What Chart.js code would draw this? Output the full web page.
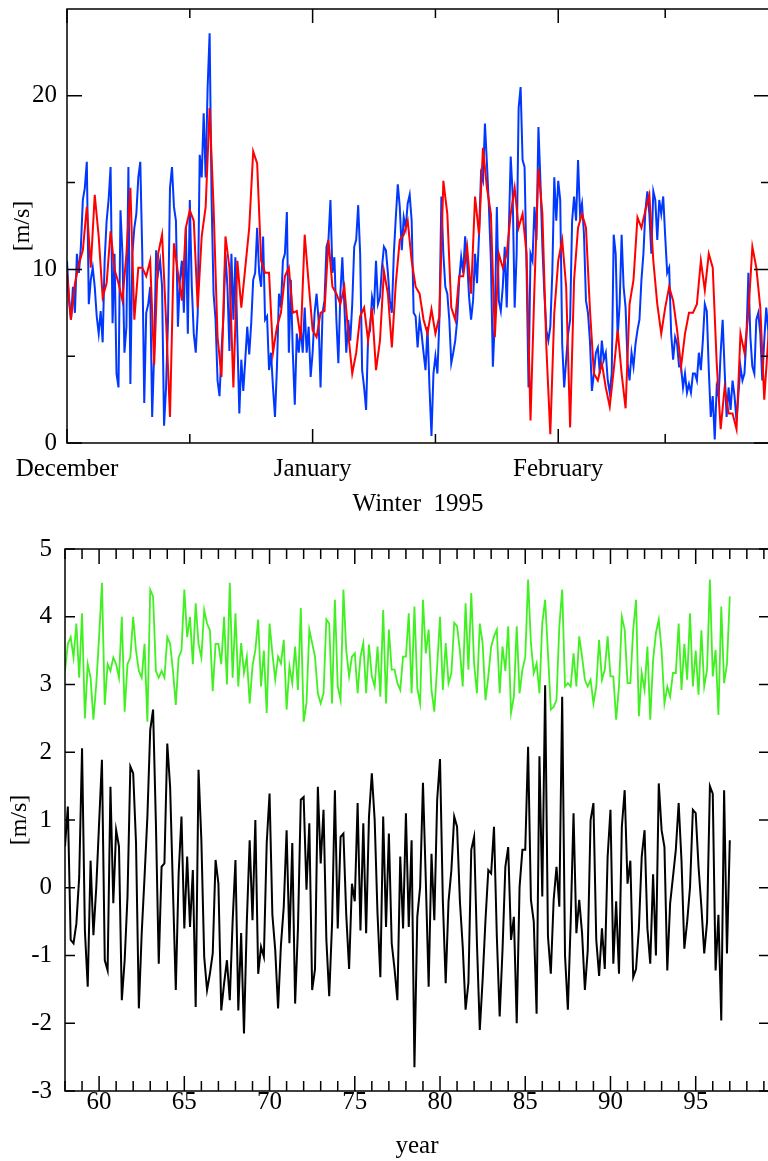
<!DOCTYPE html>
<html>
<head>
<meta charset="utf-8">
<script src="https://cdn.jsdelivr.net/npm/chart.js@4.4.1/dist/chart.umd.min.js"></script>
<style>
  html, body { margin: 0; padding: 0; background: #fff; overflow: hidden; width: 768px; height: 1161px; }
  canvas { position: absolute; left: 0; }
  #winter { top: 0; }
  #annual { top: 520px; }
</style>
</head>
<body>
<canvas id="winter" width="790" height="520"></canvas>
<canvas id="annual" width="790" height="641"></canvas>
<script>
// top panel: winter 1995, days since 1 December
const monthStarts = [0, 31, 62];
const monthNames = ['December', 'January', 'February'];
const midMonths = [15.5, 46.5, 75.5];
const speedTicks = [0, 10, 20];
const blueStep = 0.25;
const redStep = 0.5;

const blueSpeed = [
  10.5, 8.2, 7.1, 9.0, 7.5, 10.9, 9.8, 11.3, 14.0, 14.7,
  16.2, 8.0, 9.4, 10.1, 9.0, 7.3, 6.3, 7.6, 5.8, 10.5,
  12.8, 14.0, 15.9, 6.9, 10.9, 4.0, 3.2, 13.4, 10.9, 5.2,
  6.7, 15.9, 3.4, 10.9, 12.4, 13.2, 15.3, 16.2, 10.9, 2.3,
  7.5, 8.0, 9.0, 1.5, 5.2, 11.1, 9.8, 10.5, 9.0, 1.0,
  3.2, 7.1, 14.7, 15.9, 13.6, 12.8, 6.7, 9.4, 10.5, 7.5,
  12.4, 6.3, 14.0, 9.0, 6.3, 5.2, 7.5, 16.6, 15.3, 19.0,
  15.3, 20.5, 23.6, 14.0, 8.6, 7.1, 3.6, 2.7, 5.3, 7.3,
  10.9, 9.0, 5.3, 10.9, 7.1, 10.7, 6.1, 1.7, 4.8, 3.0,
  4.8, 6.7,
  5.1, 6.9, 9.4, 9.8, 12.4, 9.8, 9.0, 11.9, 7.1, 7.3,
  4.2, 5.2, 3.2, 1.5, 4.4, 8.6, 7.8, 10.5, 10.9, 13.3,
  5.2, 9.4, 5.2, 2.2, 6.3, 5.2, 6.7, 5.2, 7.8, 5.2,
  6.7, 3.8, 5.2, 7.5, 8.6, 7.1, 3.2, 7.5, 8.2, 11.3,
  11.7, 14.0, 9.8, 10.7, 7.1, 4.6, 8.6, 10.7, 8.0, 5.2,
  7.1, 5.9, 8.0, 11.3, 11.7, 13.7, 10.9, 4.2, 3.2, 1.9,
  6.1, 6.5, 8.4, 7.8, 10.5, 8.0, 8.4, 10.1, 11.3, 11.1,
  9.8, 8.2, 7.5, 10.9, 13.0, 14.9, 13.6, 11.1, 13.0, 12.4,
  13.8, 14.3, 12.8, 7.5, 7.3, 5.5, 7.1, 6.3, 5.2, 4.2,
  6.7,
  3.2, 0.4, 4.0, 5.0, 4.0, 7.1, 14.2, 10.9, 9.0, 8.6,
  7.1, 4.6, 5.2, 5.9, 7.1, 9.4, 10.7, 9.8, 11.9, 10.5,
  8.4, 7.1, 8.2, 10.9, 9.2, 12.0, 15.5, 15.1, 18.4, 16.1,
  13.6, 10.5, 4.4, 7.1, 13.6, 8.2, 7.6, 9.0, 11.3, 7.8,
  12.0, 16.5, 14.3, 7.8, 10.9, 19.3, 20.5, 16.3, 15.9, 10.1,
  3.2, 10.9, 10.5, 13.6, 11.7, 18.2, 15.1, 11.3, 8.6, 6.5,
  5.9, 6.7, 9.8, 15.3, 12.8, 15.1, 14.0, 5.7, 3.2, 4.8,
  6.3, 7.1, 12.8, 14.2, 12.8, 16.3, 13.2, 13.8, 12.0, 8.2,
  7.5, 5.9, 3.0, 4.0, 5.2, 5.5, 4.0, 5.9, 4.8, 5.2,
  3.6, 2.9, 4.0, 12.0, 10.9, 6.1, 8.0, 12.0, 9.0, 7.8,
  4.6, 3.6, 5.2, 4.4, 5.7, 6.5, 7.1, 9.4, 10.9, 13.4,
  14.5, 13.2, 10.9, 14.5, 14.0, 11.7, 14.0, 13.2, 14.2, 11.9,
  9.8, 10.1, 6.3, 4.8, 6.1, 5.7, 4.4, 4.4, 3.2, 4.0,
  2.9, 3.4, 2.9, 4.0, 4.0, 3.6, 5.2, 4.2, 5.9, 8.0,
  7.6, 4.2, 1.5, 2.7, 0.2, 3.2, 2.7, 5.2, 7.1, 4.2,
  1.5, 3.2, 1.9, 3.6, 2.7, 1.3, 2.9, 4.4, 3.6, 4.0,
  6.1, 9.8, 6.1, 4.4, 4.0, 7.1, 7.5, 6.3, 3.6, 5.9,
  7.8, 6.5, 5.0, 4.5
];

const redSpeed = [
  9.8, 7.1, 9.2, 10.3, 11.1, 13.6, 10.1, 14.3, 11.9, 8.4,
  9.2, 12.2, 10.0, 9.2, 8.2, 10.9, 14.7, 7.1, 10.1, 10.1,
  9.6, 10.5, 4.5, 10.9, 12.0, 7.1, 1.5, 11.5, 9.8, 8.2,
  12.4, 13.4, 12.8, 7.8, 11.9, 13.6, 19.3, 13.6, 6.1, 3.8,
  11.9, 10.1, 3.2, 10.5, 7.8, 10.1,
  12.4, 16.8, 16.1, 10.5, 9.8, 9.8, 5.2, 6.7, 7.5, 9.6,
  10.1, 7.5, 7.6, 6.0, 12.0, 9.2, 6.5, 6.1, 7.5, 7.6,
  11.7, 9.0, 8.6, 8.0, 9.0, 6.3, 4.0, 5.2, 7.3, 7.8,
  5.9, 7.8, 4.2, 5.9, 9.9, 8.6, 5.5, 9.2, 11.7, 12.0,
  12.8, 10.5, 9.0, 8.6, 7.1, 6.3,
  7.7, 6.3, 7.3, 15.1, 13.2, 7.8, 7.1, 9.6, 9.6, 11.3,
  8.6, 14.2, 12.0, 17.0, 14.7, 13.2, 6.1, 10.9, 10.1, 10.9,
  13.2, 14.7, 12.4, 13.2, 10.9, 1.3, 9.0, 15.8, 13.2, 5.5,
  0.5, 7.5, 10.5, 11.7, 9.0, 0.9, 9.4, 12.4, 13.2, 12.4,
  7.7, 4.0, 3.6, 4.6, 3.2, 2.1,
  4.2, 6.5, 4.0, 2.0, 8.0, 9.4, 13.0, 12.4, 13.4, 14.3,
  10.5, 8.0, 6.3, 7.8, 9.0, 8.2, 6.5, 4.4, 6.3, 7.5,
  7.5, 8.0, 10.5, 8.8, 10.9, 10.1, 4.6, 0.8, 3.2, 1.7,
  1.7, 0.8, 6.3, 5.2, 7.5, 11.3, 10.1, 7.8, 2.5, 6.0,
  5.0, 4.0
];

// bottom panel: 1958-1997
const yearStart = 58;
const yearStep = 1 / 6;
const yearTicks = [60, 65, 70, 75, 80, 85, 90, 95];
const anomalyTicks = [-3, -2, -1, 0, 1, 2, 3, 4, 5];

const greenSeries = [
  3.2, 3.6, 3.7, 3.4, 3.9, 3.1, 4.05, 2.5, 3.3, 3.1,
  2.48, 3.0, 3.7, 4.5, 2.7, 3.3, 3.2, 3.4, 3.3, 3.1,
  4.0, 2.6, 3.3, 3.4, 4.0, 3.5, 3.2, 3.1, 3.6, 2.45,
  4.4, 4.3, 3.2, 3.1, 3.2, 3.1, 3.7, 3.6, 3.2, 2.7,
  3.4, 3.5, 4.4, 3.7, 4.0, 3.3, 4.2, 3.6, 3.4, 4.1,
  3.9, 3.8, 2.9, 3.6, 3.6, 3.3, 4.0, 3.0, 4.5, 3.1,
  4.05, 2.97,
  3.61, 3.17, 3.41, 2.72, 3.27, 3.51, 3.96, 2.97, 3.5, 2.58,
  3.9, 3.46, 3.07, 3.41, 3.31, 3.66, 2.63, 3.27, 3.02, 3.56,
  2.92, 4.13, 2.45, 2.72, 3.81, 3.61, 3.41, 2.87, 2.72, 2.87,
  3.96, 3.9, 2.72, 4.25, 2.97, 2.77, 4.4, 3.5, 3.12, 3.41,
  3.46, 2.87, 3.41, 3.61, 2.87, 3.59, 3.12, 2.97, 3.56, 2.82,
  4.1, 2.72, 3.81, 3.22, 3.22, 3.02, 2.92, 3.41, 3.41, 4.05,
  2.87, 4.15,
  2.95, 2.72, 4.25, 3.46, 3.81, 2.92, 2.6, 3.27, 4.0, 2.92,
  3.61, 3.02, 3.17, 3.91, 3.86, 3.5, 2.97, 4.2, 3.22, 4.35,
  3.31, 2.87, 3.9, 3.61, 2.77, 3.12, 3.56, 3.71, 3.81, 2.87,
  3.56, 3.2, 3.86, 2.58, 2.82, 3.86, 2.87, 3.22, 3.4, 4.55,
  3.61, 3.17, 3.31, 2.87, 3.91, 4.25, 3.46, 2.63, 2.67, 2.77,
  3.86, 4.4, 2.97, 3.02, 2.97, 3.46, 2.97, 3.71, 3.41, 3.07,
  2.97,
  3.07, 2.72, 2.97, 3.66, 3.07, 3.22, 3.71, 3.12, 3.12, 2.48,
  2.97, 4.0, 3.81, 3.02, 3.02, 3.81, 4.25, 2.53, 3.17, 2.92,
  3.56, 2.48, 3.36, 3.76, 3.96, 3.5, 2.72, 2.97, 2.82, 3.17,
  3.17, 3.9, 2.92, 3.6, 3.07, 4.05, 2.97, 3.5, 2.85, 3.8,
  2.97, 3.22, 4.55, 3.12, 3.51, 2.55, 4.15, 3.02, 3.3, 4.3
];

const blackSeries = [
  0.61, 1.2, -0.77, -0.82, -0.53, 0.16, 2.06, -0.63, -1.46, 0.4,
  -0.7, 0.0, 0.95, 1.89, -1.07, -1.22, 1.49, -0.23, 0.85, 0.61,
  -1.66, -1.07, -0.13, 1.79, 1.69, 0.66, -1.78, -0.67, 0.16, 1.05,
  2.33, 2.63, 0.95, -1.12, 0.31, 0.36, 2.13, 1.49, -0.03, -1.51,
  0.21, 1.05, -0.6, 0.46, -0.58, 0.26, -1.76, 1.74, 0.7, -1.02,
  -1.51, -1.27, -0.97, 0.41, 0.06, -1.81, -1.41, -1.07, -1.66, -0.5,
  0.41, -1.81,
  -0.67, -2.15, -0.5, 0.7, -0.48, 1.0, -1.27, -0.87, -1.02, 0.66,
  1.39, -0.4, -0.92, -1.78, -0.85, -0.28, 0.85, -0.82, 0.66, -1.71,
  -0.6, 1.3, 1.34, -0.03, 0.95, -1.51, -1.2, 1.49, 0.36, 1.15,
  -0.77, -1.6, -0.53, 1.44, -0.6, 0.75, 0.8, -0.4, -1.2, 0.06,
  -0.2, 1.25, -0.63, 0.95, -0.67, 1.05, 1.69, 1.0, -0.38, -1.32,
  1.05, -0.58, 0.8, -0.82, -1.2, -1.66, 0.46, -0.6, 1.1, -0.58,
  0.7, -2.65,
  -0.43, 0.01, 1.55, 0.11, -1.46, 0.5, -0.48, 1.3, 1.9, -0.2,
  -1.41, -0.2, 0.26, 1.05, 0.9, -0.2, -0.87, -1.8, -1.4, 0.56,
  0.75, -0.82, -2.1, -1.36, -0.48, 0.26, 0.21, 0.9, -0.72, -1.9,
  -0.92, 0.31, 0.6, -0.77, -0.43, -2.0, 0.01, 0.56, 0.56, 2.08,
  -0.18, -0.5, -1.86, 1.94, -0.13, 2.99, -0.72, -1.27, -0.18, 0.31,
  -0.28, 2.82, -1.0, -1.8, -0.5, 1.1, -0.67, -0.18, -0.67, -1.51,
  -0.92,
  1.0, 1.25, -0.77, -1.3, -0.6, -1.2, 0.46, 1.15, -1.12, -0.2,
  -1.27, 0.9, 1.44, 0.06, 0.4, -1.32, -1.2, -0.6, 0.46, 0.85,
  -0.6, -1.12, 0.2, -1.0, 1.54, 0.85, 0.6, -1.22, -0.23, 0.16,
  0.56, 1.25, 0.4, -0.9, -0.5, 0.01, 1.15, 1.1, 0.31, -0.28,
  -0.97, -0.5, 1.5, 1.39, -1.22, -0.4, -1.96, 1.44, -0.97, 0.7
];

const toPoints = (values, x0, step) => values.map((v, i) => ({ x: x0 + i * step, y: v }));

const serif = { family: "'Liberation Serif', 'Times New Roman', serif", size: 25, lineHeight: 1 };

// box frame with inward tick marks on all four sides
const frameTicks = {
  id: 'frameTicks',
  afterDatasetsDraw(chart, args, opts) {
    const { ctx, chartArea: a } = chart;
    const x = chart.scales.x, y = chart.scales.y;
    ctx.save();
    ctx.strokeStyle = '#000';
    ctx.lineWidth = 1.5;
    ctx.beginPath();
    opts.xTicks.forEach(([v, len]) => {
      const px = x.getPixelForValue(v);
      ctx.moveTo(px, a.bottom); ctx.lineTo(px, a.bottom - len);
      ctx.moveTo(px, a.top); ctx.lineTo(px, a.top + len);
    });
    opts.yTicks.forEach(([v, len]) => {
      const py = y.getPixelForValue(v);
      ctx.moveTo(a.left, py); ctx.lineTo(a.left + len, py);
      ctx.moveTo(a.right, py); ctx.lineTo(a.right - len, py);
    });
    ctx.stroke();
    ctx.strokeRect(a.left, a.top, a.right - a.left, a.bottom - a.top);
    ctx.restore();
  }
};

// pin the axis boxes so the plot area lands where the original has it
const fixX = h => s => { s.height = h; s.paddingLeft = 0; s.paddingRight = 0; };
const fixY = w => s => { s.width = w; s.paddingTop = 0; s.paddingBottom = 0; };

const baseOptions = {
  responsive: false,
  animation: false,
  devicePixelRatio: 1,
  events: [],
  elements: { point: { radius: 0 }, line: { tension: 0, fill: false } }
};

const noGrid = { display: false, drawTicks: false };

new Chart(document.getElementById('winter'), {
  type: 'line',
  data: {
    datasets: [
      { data: toPoints(redSpeed, 0, redStep), borderColor: '#ff0000', borderWidth: 2, order: 0 },
      { data: toPoints(blueSpeed, 0, blueStep), borderColor: '#0038ff', borderWidth: 2, order: 1 }
    ]
  },
  options: {
    ...baseOptions,
    layout: { autoPadding: false, padding: { top: 9, right: 21, left: 0, bottom: 0 } },
    plugins: {
      legend: { display: false },
      tooltip: { enabled: false },
      frameTicks: {
        xTicks: monthStarts.map(v => [v, 14]).concat(midMonths.map(v => [v, 9])),
        yTicks: speedTicks.map(v => [v, 15]).concat([[5, 8], [15, 8]])
      }
    },
    scales: {
      x: {
        type: 'linear', min: 0, max: 88.6,
        grid: noGrid, border: { display: false },
        afterFit: fixX(77),
        afterBuildTicks: s => { s.ticks = monthStarts.map(v => ({ value: v })); },
        ticks: {
          autoSkip: false, maxRotation: 0, padding: 14, color: '#000', font: serif,
          callback: v => monthNames[monthStarts.indexOf(v)]
        },
        title: { display: true, text: 'Winter  1995', color: '#000', font: serif, padding: { top: 0, bottom: 3 } }
      },
      y: {
        type: 'linear', min: 0, max: 25,
        grid: noGrid, border: { display: false },
        afterFit: fixY(67),
        afterBuildTicks: s => { s.ticks = speedTicks.map(v => ({ value: v })); },
        ticks: { padding: 10, color: '#000', font: serif, callback: v => String(v) },
        title: { display: true, text: '[m/s]', color: '#000', font: { ...serif, size: 24 }, padding: { top: 11, bottom: 0 } }
      }
    }
  },
  plugins: [frameTicks]
});

const yearMarks = [];
for (let yr = 58; yr <= 99; yr++) yearMarks.push([yr, yr % 5 === 0 ? 15 : 10]);

new Chart(document.getElementById('annual'), {
  type: 'line',
  data: {
    datasets: [
      { data: toPoints(greenSeries, yearStart, yearStep), borderColor: '#40f020', borderWidth: 1.8 },
      { data: toPoints(blackSeries, yearStart, yearStep), borderColor: '#000000', borderWidth: 2 }
    ]
  },
  options: {
    ...baseOptions,
    layout: { autoPadding: false, padding: { top: 29, right: 21, left: 0, bottom: 0 } },
    plugins: {
      legend: { display: false },
      tooltip: { enabled: false },
      frameTicks: {
        xTicks: yearMarks,
        yTicks: anomalyTicks.map(v => [v, 10])
      }
    },
    scales: {
      x: {
        type: 'linear', min: 58, max: 99.3,
        grid: noGrid, border: { display: false },
        afterFit: fixX(70),
        afterBuildTicks: s => { s.ticks = yearTicks.map(v => ({ value: v })); },
        ticks: { autoSkip: false, maxRotation: 0, padding: -1, color: '#000', font: serif, callback: v => String(v) },
        title: { display: true, text: 'year', color: '#000', font: serif, padding: { top: 0, bottom: 2 } }
      },
      y: {
        type: 'linear', min: -3, max: 5,
        grid: noGrid, border: { display: false },
        afterFit: fixY(65),
        afterBuildTicks: s => { s.ticks = anomalyTicks.map(v => ({ value: v })); },
        ticks: { padding: 13, color: '#000', font: serif, callback: v => String(v) },
        title: { display: true, text: '[m/s]', color: '#000', font: { ...serif, size: 24 }, padding: { top: 8, bottom: 0 } }
      }
    }
  },
  plugins: [frameTicks]
});
</script>
</body>
</html>
